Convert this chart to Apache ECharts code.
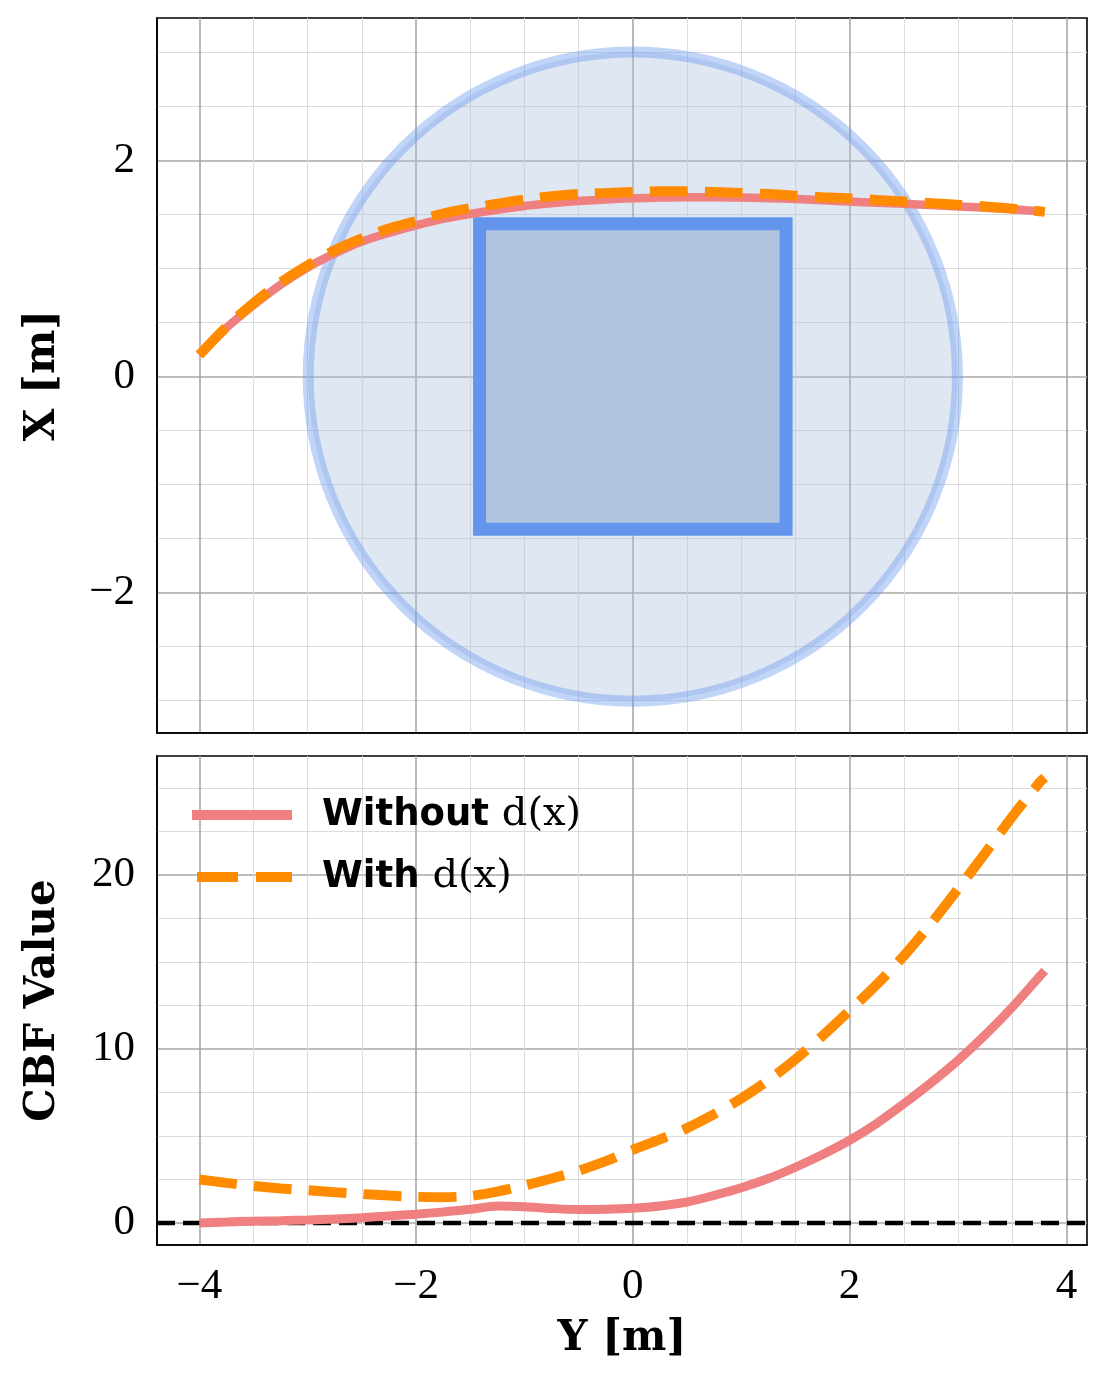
<!DOCTYPE html>
<html>
<head>
<meta charset="utf-8">
<title>CBF trajectories</title>
<script src="https://cdn.jsdelivr.net/npm/echarts@6/dist/echarts.min.js"></script>
<style>
  html, body { margin: 0; padding: 0; background: #fff; }
  #chart { width: 1107px; height: 1380px; }
</style>
</head>
<body>
<div id="chart"></div>
<script>
// lateral position Y [m] of each sample along the path (shared by both panels)
const posY = [-4.0, -3.75, -3.5, -3.25, -3.0, -2.75, -2.5, -2.25, -2.0, -1.75, -1.5, -1.25,
  -1.0, -0.75, -0.5, -0.25, 0, 0.25, 0.5, 0.75, 1.0, 1.25, 1.5, 1.75,
  2.0, 2.25, 2.5, 2.75, 3.0, 3.25, 3.5, 3.75, 3.8];

// longitudinal position X [m] of the robot, top panel
const pathWithout = [0.20, 0.45, 0.66, 0.85, 1.01, 1.14, 1.25, 1.33, 1.40, 1.46, 1.505, 1.545,
  1.58, 1.605, 1.625, 1.64, 1.65, 1.657, 1.66, 1.66, 1.657, 1.652, 1.645, 1.633,
  1.62, 1.61, 1.60, 1.588, 1.575, 1.563, 1.55, 1.532, 1.525];
const pathWith = [0.20, 0.46, 0.68, 0.87, 1.03, 1.17, 1.28, 1.37, 1.44, 1.51, 1.56, 1.60,
  1.64, 1.67, 1.69, 1.70, 1.71, 1.715, 1.715, 1.71, 1.70, 1.69, 1.675, 1.66,
  1.65, 1.635, 1.62, 1.605, 1.59, 1.575, 1.555, 1.53, 1.525];

// CBF value along the path, bottom panel
const cbfWithout = [0.0, 0.05, 0.10, 0.13, 0.17, 0.22, 0.30, 0.40, 0.50, 0.63, 0.78, 0.97,
  0.93, 0.83, 0.77, 0.78, 0.84, 0.97, 1.20, 1.58, 2.02, 2.55, 3.20, 3.93,
  4.75, 5.72, 6.85, 8.05, 9.35, 10.80, 12.40, 14.15, 14.50];
const cbfWith = [2.50, 2.30, 2.12, 1.98, 1.88, 1.76, 1.66, 1.57, 1.50, 1.48, 1.55, 1.80,
  2.15, 2.55, 3.00, 3.55, 4.20, 4.80, 5.45, 6.25, 7.15, 8.20, 9.40, 10.75,
  12.20, 13.70, 15.35, 17.20, 19.20, 21.25, 23.35, 25.30, 25.60];

// obstacles
const safeCircle = [[0, 0, 3]];                      // centre y, centre x, radius
const obstacleBox = [[-1.414, -1.414, 1.414, 1.414]]; // min y, min x, max y, max x

// safety boundary of the CBF
const zeroLevel = [[-4.39, 0], [4.19, 0]];

const ticksY = [-4, -2, 0, 2, 4];
const ticksXTop = [-2, 0, 2];
const ticksCbf = [0, 10, 20];

const names = ['Without d(x)', 'With d(x)'];

const pair = (xs, ys) => xs.map((x, i) => [x, ys[i]]);
const fmt = (list) => (v) => list.some(t => Math.abs(t - v) < 1e-6) ? (v < 0 ? '\u2212' + (-v) : String(v)) : '';

const chart = echarts.init(document.getElementById('chart'), null, { renderer: 'canvas' });

const tickFont = { fontFamily: 'Liberation Serif', fontSize: 43, color: '#000' };
const nameFont = { fontFamily: 'DejaVu Serif', fontWeight: 'bold', fontSize: 42, color: '#000' };
const major = { show: true, showMinLine: false, showMaxLine: false, lineStyle: { color: '#a8a8a8', width: 1.6 } };
const minor = { show: true, lineStyle: { color: '#dcdcdc', width: 1 } };
const frame = { show: true, onZero: false, lineStyle: { color: '#000', width: 1.6 } };

const option = {
  backgroundColor: '#fff',
  animation: false,
  grid: [
    { left: 157, top: 18, width: 930, height: 715, show: true, borderColor: '#000', borderWidth: 1.6, backgroundColor: 'transparent' },
    { left: 157, top: 756, width: 930, height: 489, show: true, borderColor: '#000', borderWidth: 1.6, backgroundColor: 'transparent' }
  ],
  xAxis: [
    {
      type: 'value', gridIndex: 0, min: -4.39, max: 4.19, minInterval: 2, maxInterval: 2,
      axisLine: frame, axisTick: { show: false }, axisLabel: { show: false },
      splitLine: major, minorTick: { show: false, splitNumber: 4 }, minorSplitLine: minor
    },
    {
      type: 'value', gridIndex: 1, min: -4.39, max: 4.19, minInterval: 2, maxInterval: 2,
      axisLine: frame, axisTick: { show: false },
      axisLabel: Object.assign({ margin: 20, formatter: fmt(ticksY), showMinLabel: true, showMaxLabel: true }, tickFont),
      splitLine: major, minorTick: { show: false, splitNumber: 4 }, minorSplitLine: minor,
      name: 'Y [m]', nameLocation: 'middle', nameGap: 73, nameTextStyle: nameFont
    }
  ],
  yAxis: [
    {
      type: 'value', gridIndex: 0, min: -3.3, max: 3.32, minInterval: 2, maxInterval: 2, splitNumber: 3,
      axisLine: frame, axisTick: { show: false },
      axisLabel: Object.assign({ margin: 22, formatter: fmt(ticksXTop) }, tickFont),
      splitLine: major, minorTick: { show: false, splitNumber: 4 }, minorSplitLine: minor,
      name: 'X [m]', nameLocation: 'middle', nameGap: 93, nameTextStyle: nameFont
    },
    {
      type: 'value', gridIndex: 1, min: -1.27, max: 26.84, minInterval: 10, maxInterval: 10, splitNumber: 3,
      axisLine: frame, axisTick: { show: false },
      axisLabel: Object.assign({ margin: 22, formatter: fmt(ticksCbf) }, tickFont),
      splitLine: major, minorTick: { show: false, splitNumber: 4 }, minorSplitLine: minor,
      name: 'CBF Value', nameLocation: 'middle', nameGap: 93, nameTextStyle: nameFont
    }
  ],
  legend: {
    orient: 'vertical', left: 182, top: 790, itemWidth: 100, itemHeight: 12, itemGap: 22,
    data: [
      { name: names[0], lineStyle: { width: 10 } },
      { name: names[1], lineStyle: { width: 10, type: [41, 18], dashOffset: -5 } }
    ],
    itemStyle: { opacity: 0 },
    formatter: (n) => n === names[0] ? '{s|Without }{m|d(x)}' : '{s|With }{m|d(x)}',
    textStyle: {
      padding: [0, 0, 0, 25],
      rich: {
        s: { fontFamily: 'DejaVu Sans', fontWeight: 'bold', fontSize: 37, color: '#000' },
        m: { fontFamily: 'DejaVu Serif', fontSize: 40, color: '#000' }
      }
    }
  },
  series: [
    {
      type: 'custom', name: 'safe set', xAxisIndex: 0, yAxisIndex: 0, z: 1, silent: true,
      data: safeCircle,
      renderItem: (params, api) => {
        const c = api.coord([api.value(0), api.value(1)]);
        const s = api.size([api.value(2), api.value(2)]);
        return {
          type: 'circle',
          shape: { cx: c[0], cy: c[1], r: (s[0] + s[1]) / 2 },
          style: { fill: 'rgba(176,196,222,0.4)', stroke: 'rgba(100,149,237,0.4)', lineWidth: 11 }
        };
      }
    },
    {
      type: 'custom', name: 'obstacle', xAxisIndex: 0, yAxisIndex: 0, z: 2, silent: true,
      data: obstacleBox,
      renderItem: (params, api) => {
        const p0 = api.coord([api.value(0), api.value(3)]);
        const p1 = api.coord([api.value(2), api.value(1)]);
        return {
          type: 'rect',
          shape: { x: p0[0], y: p0[1], width: p1[0] - p0[0], height: p1[1] - p0[1] },
          style: { fill: '#b0c4de', stroke: '#6495ed', lineWidth: 13 }
        };
      }
    },
    {
      type: 'line', name: names[0], xAxisIndex: 0, yAxisIndex: 0, z: 3,
      data: pair(posY, pathWithout), symbol: 'none', smooth: 0.3,
      lineStyle: { color: '#f08080', width: 8.5 }, itemStyle: { color: '#f08080' }
    },
    {
      type: 'line', name: names[1], xAxisIndex: 0, yAxisIndex: 0, z: 4,
      data: pair(posY, pathWith), symbol: 'none', smooth: 0.3,
      lineStyle: { color: '#ff8c00', width: 10, type: [38, 17] }, itemStyle: { color: '#ff8c00' }
    },
    {
      type: 'line', name: 'zero', xAxisIndex: 1, yAxisIndex: 1, z: 3,
      data: zeroLevel, symbol: 'none', silent: true,
      lineStyle: { color: '#000', width: 4.5, type: [18, 8] }
    },
    {
      type: 'line', name: names[0], xAxisIndex: 1, yAxisIndex: 1, z: 4,
      data: pair(posY, cbfWithout), symbol: 'none', smooth: 0.3,
      lineStyle: { color: '#f08080', width: 9 }, itemStyle: { color: '#f08080' }
    },
    {
      type: 'line', name: names[1], xAxisIndex: 1, yAxisIndex: 1, z: 5,
      data: pair(posY, cbfWith), symbol: 'none', smooth: 0.3,
      lineStyle: { color: '#ff8c00', width: 10, type: [38, 17] }, itemStyle: { color: '#ff8c00' }
    }
  ]
};

chart.setOption(option);
</script>
</body>
</html>
